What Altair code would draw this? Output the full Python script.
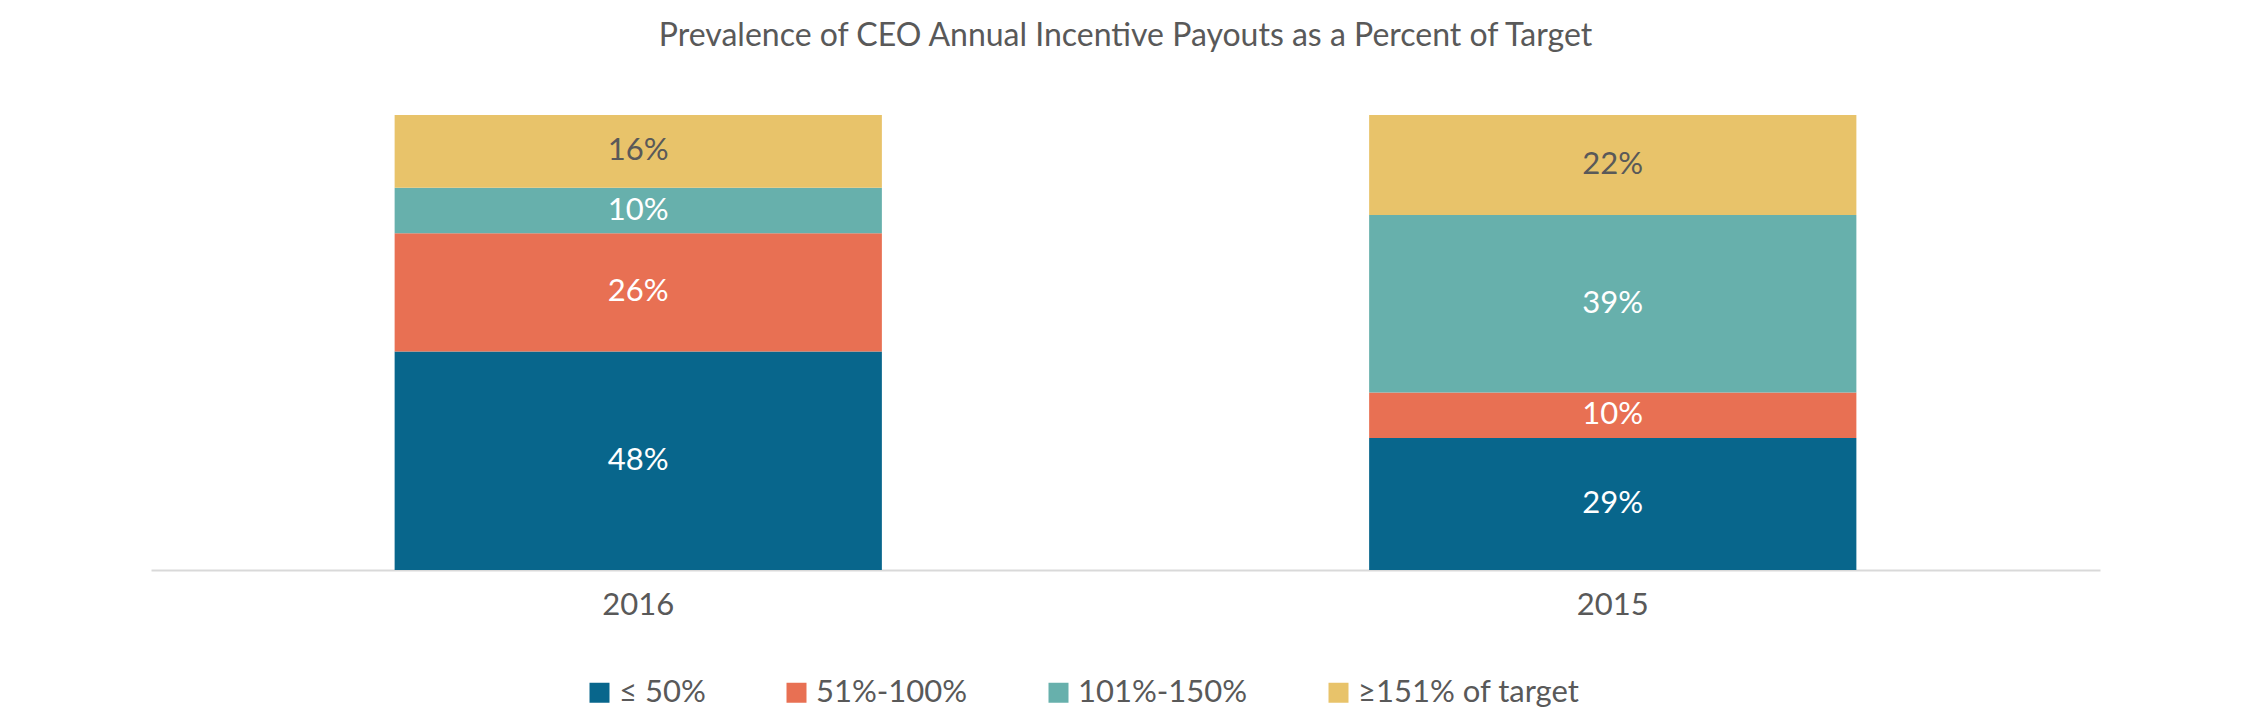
import pandas as pd
import altair as alt

years = ["2016", "2015"]
cats = ["≤ 50%", "51%-100%", "101%-150%", "≥151% of target"]
vals_2016 = [48, 26, 10, 16]
vals_2015 = [29, 10, 39, 22]
colors = ["#08668C", "#E87053", "#67B0AC", "#E8C36A"]
text_colors = ["white", "white", "white", "#595959"]

rows = []
for y, vals in zip(years, [vals_2016, vals_2015]):
    for i, (c, v) in enumerate(zip(cats, vals)):
        rows.append({"year": y, "cat": c, "value": v, "ord": i, "tc": text_colors[i]})
df = pd.DataFrame(rows)

base = alt.Chart(df).transform_stack(
    stack="value", as_=["y0", "y1"], groupby=["year"], sort=[alt.SortField("ord")]
).transform_calculate(mid="(datum.y0 + datum.y1) / 2", label="datum.value + '%'")

xenc = alt.X("year:N", sort=years, title=None,
             scale=alt.Scale(paddingInner=0.5, paddingOuter=0.25),
             axis=alt.Axis(labelAngle=0, labelFontSize=31, labelColor="#595959",
                           labelFont="Lato", labelPadding=20, ticks=False,
                           domainColor="#d9d9d9", domainWidth=2))

bars = base.mark_bar().encode(
    x=xenc,
    y=alt.Y("y0:Q", scale=alt.Scale(domain=[0, 100]), axis=None),
    y2="y1:Q",
    color=alt.Color("cat:N", sort=cats,
                    scale=alt.Scale(domain=cats, range=colors),
                    legend=alt.Legend(title=None, orient="none", direction="horizontal",
                                      legendX=433, legendY=562,
                                      symbolType="square", symbolSize=400,
                                      symbolStrokeWidth=0, labelFontSize=31,
                                      labelFont="Lato", labelColor="#595959",
                                      columnPadding=75, labelLimit=400)),
)

labels = base.mark_text(fontSize=31, font="Lato").encode(
    x=alt.X("year:N", sort=years),
    y="mid:Q",
    text="label:N",
    color=alt.Color("tc:N", scale=None),
)

chart = alt.layer(bars, labels).properties(
    width=1949, height=455,
    autosize=alt.AutoSizeParams(type="none"),
    padding={"left": 143, "top": 107, "right": 100, "bottom": 150},
    title=alt.TitleParams("Prevalence of CEO Annual Incentive Payouts as a Percent of Target",
                          fontSize=32, font="Lato", fontWeight="normal",
                          color="#595959", offset=62, anchor="middle"),
).configure_view(stroke=None)

chart.save("out.html", embed_options={"renderer": "svg", "actions": False})
